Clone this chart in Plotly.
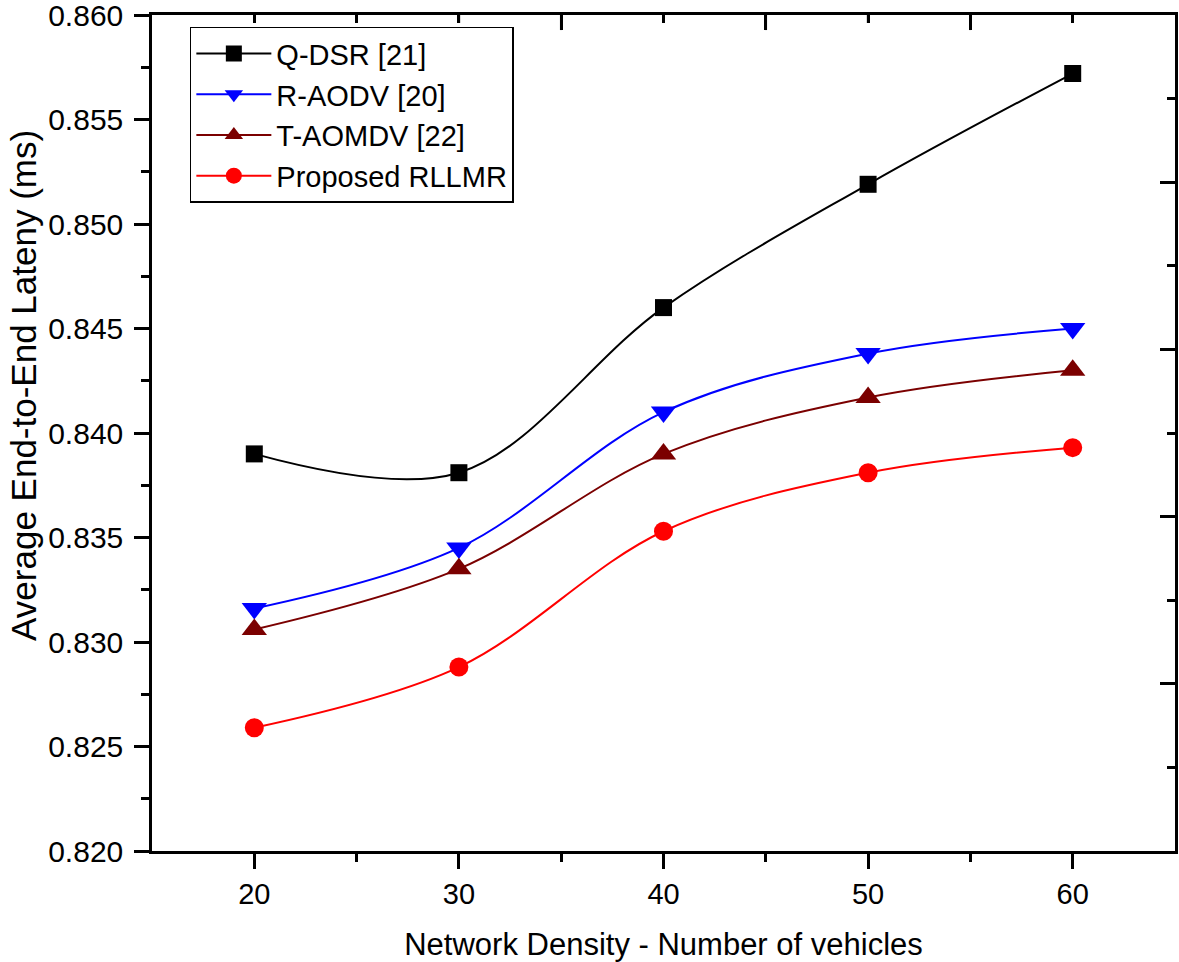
import plotly.graph_objects as go

vehicles = [20, 30, 40, 50, 60]
q_dsr = [0.8390, 0.8381, 0.8460, 0.8519, 0.8572]
r_aodv = [0.8316, 0.8345, 0.8410, 0.8438, 0.8450]
t_aomdv = [0.8306, 0.8335, 0.8390, 0.8417, 0.8430]
rllmr = [0.8259, 0.8288, 0.8353, 0.8381, 0.8393]

y_ticks = [0.820, 0.825, 0.830, 0.835, 0.840, 0.845, 0.850, 0.855, 0.860]
y_minor = [0.8225, 0.8275, 0.8325, 0.8375, 0.8425, 0.8475, 0.8525, 0.8575]
right_major = [0.820, 0.828, 0.836, 0.844, 0.852, 0.860]
right_minor = [0.824, 0.832, 0.840, 0.848, 0.856]
top_major = [35, 45, 55]
top_minor = [20, 25, 30, 40, 50, 60]

series = [
    ("Q-DSR [21]", q_dsr, "#000000", "square", 17),
    ("R-AODV [20]", r_aodv, "#0000FF", "triangle-down", 22),
    ("T-AOMDV [22]", t_aomdv, "#7B0000", "triangle-up", 22),
    ("Proposed RLLMR", rllmr, "#FF0000", "circle", 19),
]

FONT = "Liberation Sans, Arial, sans-serif"
fig = go.Figure()
for name, vals, col, sym, sz in series:
    fig.add_trace(go.Scatter(
        x=vehicles, y=vals, name=name, mode="lines+markers",
        line=dict(color=col, width=2, shape="spline", smoothing=1.0),
        marker=dict(symbol=sym, size=sz, color=col, line=dict(width=0)),
    ))
# empty traces to carry the right and top axes
fig.add_trace(go.Scatter(x=[None], y=[None], xaxis="x", yaxis="y2", showlegend=False,
                         hoverinfo="skip"))
fig.add_trace(go.Scatter(x=[None], y=[None], xaxis="x2", yaxis="y", showlegend=False,
                         hoverinfo="skip"))

axis_common = dict(showline=True, linecolor="black", linewidth=2.5, showgrid=False,
                   zeroline=False, tickcolor="black", tickwidth=2.5, ticklen=15,
                   automargin=False, type="linear")

# top-axis tick marks (inside), placed at the top-axis tick values
tick_shapes = []
for vals, frac in ((top_major, 0.018), (top_minor, 0.0096)):
    for v in vals:
        tick_shapes.append(dict(type="line", xref="x", yref="y domain",
                                x0=v, x1=v, y0=1, y1=1 - frac,
                                line=dict(color="black", width=2.5), layer="above"))

fig.update_layout(
    width=1179, height=962,
    margin=dict(l=152, r=4, t=15, b=111),
    paper_bgcolor="white", plot_bgcolor="rgba(0,0,0,0)",
    font=dict(family=FONT, color="black"),
    showlegend=True,
    legend=dict(x=0.037, y=0.986, xanchor="left", yanchor="top",
                bgcolor="white", bordercolor="black", borderwidth=1.5,
                itemwidth=75,
                font=dict(family=FONT, size=29, color="black"), tracegroupgap=0),
    xaxis=dict(range=[15, 65], domain=[0, 1], tickvals=vehicles, ticks="outside",
               tickfont=dict(size=29), ticklabelstandoff=0,
               minor=dict(tickvals=[25, 35, 45, 55], ticks="outside", ticklen=8,
                          tickwidth=2.5, tickcolor="black"),
               title=dict(text="Network Density - Number of vehicles",
                          font=dict(size=31), standoff=30),
               **axis_common),
    yaxis=dict(range=[0.820, 0.860], tickvals=y_ticks, tickformat=".3f",
               ticks="outside", tickfont=dict(size=30), ticklabelstandoff=5,
               ticklabeloverflow="allow",
               minor=dict(tickvals=y_minor, ticks="outside", ticklen=8,
                          tickwidth=2.5, tickcolor="black"),
               **axis_common),
    xaxis2=dict(range=[15, 65], domain=[0, 1], side="top", anchor="y",
                tickvals=top_major, ticks="inside", showticklabels=False,
                minor=dict(tickvals=top_minor, ticks="inside", ticklen=8,
                           tickwidth=2.5, tickcolor="black"),
                **axis_common),
    yaxis2=dict(range=[0.820, 0.860], overlaying="y", side="right", anchor="x",
                tickvals=right_major, ticks="inside", showticklabels=False,
                minor=dict(tickvals=right_minor, ticks="inside", ticklen=8,
                           tickwidth=2.5, tickcolor="black"),
                **axis_common),
    shapes=tick_shapes,
    annotations=[dict(text="Average End-to-End Lateny (ms)", textangle=-90,
                      xref="paper", yref="paper", x=-0.1466, y=0.557,
                      xanchor="left", yanchor="middle", showarrow=False,
                      font=dict(family=FONT, size=35, color="black"))],
)

fig.write_html("out.html", config={"displayModeBar": False},
               post_script="document.body.style.margin='0px';")
